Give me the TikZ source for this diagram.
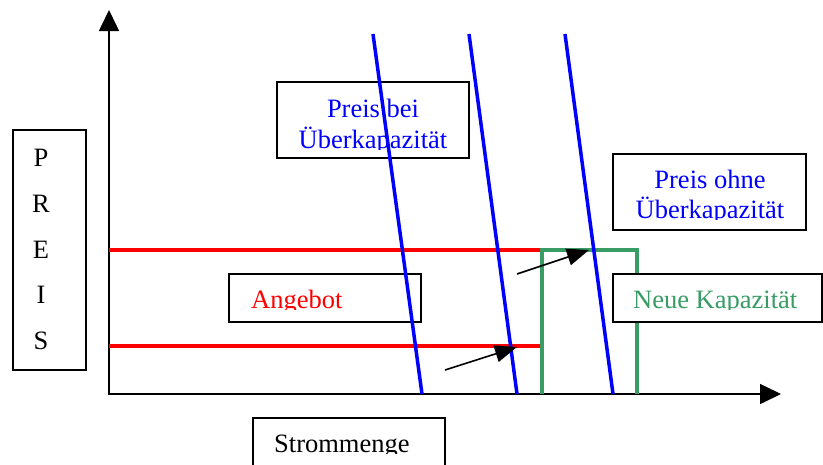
\documentclass[tikz,border=0pt]{standalone}
\usepackage{fontspec}
\setmainfont{Liberation Serif}
\usetikzlibrary{arrows.meta}
\definecolor{sgreen}{RGB}{56,156,100}
\newcommand{\cliptext}[6]{% name, x, y, anchor, color, text
  \begin{scope}
    \clip (#2-250,#3-40) rectangle (#2+250,#3+1);
    \node[lbl, anchor=#4, text=#5] (#1) at (#2,#3) {#6};
  \end{scope}}
\begin{document}
\begin{tikzpicture}[x=1pt,y=-1pt,
  lbl/.style={font=\fontsize{26.5}{31}\selectfont, inner sep=0pt},
  box/.style={draw=black, line width=1.5pt, fill=white, inner sep=0pt},
  axisline/.style={line width=1.6pt, -{Triangle[length=21pt,width=20pt]}},
  supply/.style={draw=red, line width=4.6pt},
  capacity/.style={draw=sgreen, line width=4.3pt},
  demand/.style={draw=blue, line width=3.5pt},
  shiftarrow/.style={line width=1.6pt, -{Triangle[length=22pt,width=17pt]}}]
\useasboundingbox (0,0) rectangle (823,464);

% axes
\coordinate (origin) at (109,394);
\coordinate (ytip) at (109,10);
\coordinate (xtip) at (781,394);
\draw[axisline] (109,395) -- (ytip);
\draw[axisline] (origin) -- (xtip);

% supply lines (red)
\coordinate (s1a) at (109,250);
\coordinate (s1b) at (540,250);
\coordinate (s2a) at (109,346);
\coordinate (s2b) at (540,346);
\draw[supply] (s1a) -- (s1b);
\draw[supply] (s2a) -- (s2b);

% new capacity (green)
\coordinate (g1) at (542,394);
\coordinate (g2) at (542,250);
\coordinate (g3) at (637,250);
\coordinate (g4) at (637,394);
\draw[capacity, line join=miter] (g1) -- (g2) -- (g3) -- (g4);

% boxes
\node[box, minimum width=73, minimum height=240] (preisbox) at (49.5,250) {};
\node[box, minimum width=192, minimum height=76] (pbbox) at (373,120) {};
\node[box, minimum width=193, minimum height=76] (pobox) at (709.5,192) {};
\node[box, minimum width=192, minimum height=48] (angbox) at (325,298) {};
\node[box, minimum width=209, minimum height=48] (nkbox) at (717.5,298) {};
\node[box, minimum width=192, minimum height=60] (smbox) at (349,448) {};

% texts
\node[lbl, anchor=base] (tP) at (41,166) {P};
\node[lbl, anchor=base] (tR) at (41,212) {R};
\node[lbl, anchor=base] (tE) at (41,258) {E};
\node[lbl, anchor=base] (tI) at (41,303) {I};
\node[lbl, anchor=base] (tS) at (41,349) {S};

\node[lbl, anchor=base, text=blue] (pb1) at (373,117) {Preis bei};
\cliptext{pb2}{373}{148}{base}{blue}{Überkapazität}
\node[lbl, anchor=base, text=blue] (po1) at (710,188) {Preis ohne};
\cliptext{po2}{710}{218}{base}{blue}{Überkapazität}
\cliptext{ang}{251}{308}{base west}{red}{Angebot}
\cliptext{nk}{633}{308}{base west}{sgreen}{Neue Kapazität}
\cliptext{sm}{274}{452}{base west}{black}{Strommenge}

% demand lines (blue)
\coordinate (d1t) at (373,34);
\coordinate (d1b) at (422,394);
\coordinate (d2t) at (469,34);
\coordinate (d2b) at (517,394);
\coordinate (d3t) at (565,34);
\coordinate (d3b) at (613,394);
\draw[demand] (d1t) -- (d1b);
\draw[demand] (d2t) -- (d2b);
\draw[demand] (d3t) -- (d3b);

% shift arrows
\coordinate (a1s) at (445,370);
\coordinate (a1e) at (517,347);
\coordinate (a2s) at (517,274);
\coordinate (a2e) at (589,250);
\draw[shiftarrow] (a1s) -- (a1e);
\draw[shiftarrow] (a2s) -- (a2e);
\end{tikzpicture}
\end{document}
